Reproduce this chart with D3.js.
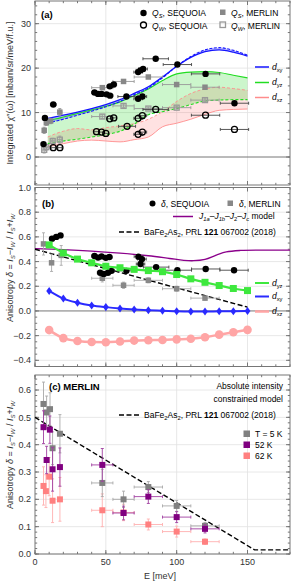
<!DOCTYPE html>
<html>
<head>
<meta charset="utf-8">
<script src="https://cdn.jsdelivr.net/npm/d3@7"></script>
<style>
  body { margin: 0; background: #fff; }
  svg { font-family: "Liberation Sans", Arial, sans-serif; }
</style>
</head>
<body>
<script>
/** DATA **/
// (a) model curves, energy grid
const eModel = [9, 15, 20, 30, 40, 50, 60, 70, 80, 90, 100, 110, 120, 130, 140, 150];
const xySolid  = [8.7, 9.1, 9.4, 10.1, 10.9, 11.8, 12.9, 14.3, 15.8, 18.0, 20.4, 22.4, 23.7, 24.1, 23.6, 22.7];
const xyDashed = [7.6, 8.1, 8.5, 9.4, 10.3, 11.3, 12.5, 14.0, 15.5, 17.8, 20.4, 22.6, 24.1, 24.6, 24.0, 22.9];
const yzUpper  = [8.2, 8.6, 9.0, 9.8, 10.6, 11.4, 12.4, 13.8, 15.3, 17.2, 18.7, 19.1, 19.2, 19.0, 18.4, 17.8];
const yzLower  = [3.0, 3.3, 3.6, 4.0, 4.5, 5.0, 5.8, 7.4, 9.5, 10.2, 10.9, 11.8, 12.6, 12.8, 12.9, 12.9];
const xzUpper  = [4.5, 5.3, 5.8, 6.4, 6.1, 6.6, 7.0, 7.5, 8.5, 10.2, 12.5, 14.3, 15.3, 15.7, 15.4, 15.0];
const xzLower  = [2.3, 2.7, 3.0, 3.6, 3.8, 3.6, 3.4, 3.9, 4.5, 6.8, 7.6, 8.5, 9.6, 10.5, 10.7, 10.8];

// (a) Q_S SEQUOIA
const qsSeqE  = [6, 7, 12.9, 42, 44.5, 47, 50.5, 53, 52.8, 55.6, 64.5, 72.8, 75.8, 72.8, 74.4, 76.3, 85.2, 100.5, 120.4, 140.8];
const qsSeqV  = [2.9, 8.8, 11.8, 14.5, 14.2, 14.2, 14.1, 13.8, 15.9, 16.3, 13.6, 13.1, 13.6, 19.1, 19.5, 19.8, 22.1, 20.8, 18.7, 12.1];
const qsSeqDE = [1.5, 1.5, 2, 2, 2, 2, 2, 2, 2, 2, 6, 3, 3, 3, 3, 3, 9, 10, 10, 10];
// (a) Q_W SEQUOIA
const qwSeqE  = [12.9, 17.6, 43.4, 47, 50, 52.8, 55.6, 65, 72.8, 75.8, 72.8, 75.8, 85.2, 120.4, 140.8];
const qwSeqV  = [2.1, 2.1, 5.7, 5.6, 5.3, 8.6, 8.8, 6.9, 5.1, 5.6, 8.7, 9.3, 10.7, 9.4, 6.2];
const qwSeqDE = [1.5, 1.5, 2, 2, 2, 2, 2, 6, 3, 3, 3, 3, 9, 10, 10];
// (a) MERLIN
const merE   = [6.5, 8, 11, 17.5, 47.5, 62.5, 80, 100, 120];
const merDE  = [1, 1, 1, 1.5, 7.5, 7.5, 10, 10, 10];
const qsMerV = [6.0, 7.7, 8.1, 10.1, 15.6, 17.0, 18.0, 16.3, 15.7];
const qsMerDV = [0.7, 0.6, 0.6, 0.8, 0.4, 0.4, 0.3, 0.3, 0.3];
const qwMerE = [6.5, 8, 12.5, 17.5, 47.5, 62.5, 80, 100, 120];
const qwMerV = [1.6, 2.2, 3.6, 3.9, 9.1, 11.5, 10.9, 11.1, 12.8];

// (b) calculated anisotropy per orbital
const eCalc   = [10, 20, 30, 40, 50, 60, 70, 80, 90, 100, 110, 120, 130, 140, 150];
const yzDelta = [0.535, 0.47, 0.42, 0.39, 0.362, 0.35, 0.337, 0.327, 0.318, 0.295, 0.26, 0.232, 0.206, 0.182, 0.165];
const xyDelta = [0.162, 0.10, 0.067, 0.045, 0.031, 0.02, 0.012, 0.006, 0.002, -0.003, -0.005, -0.005, -0.003, -0.002, 0.0];
const xzDelta = [-0.155, -0.22, -0.243, -0.252, -0.253, -0.247, -0.24, -0.237, -0.235, -0.23, -0.225, -0.213, -0.192, -0.172, -0.153];
// (b) J model
const jModelE = [0, 20, 40, 60, 80, 95, 105, 112, 120, 128, 135, 145, 160, 180];
const jModelV = [0.505, 0.497, 0.485, 0.468, 0.447, 0.425, 0.41, 0.407, 0.418, 0.452, 0.478, 0.49, 0.493, 0.493];
// BaFe2As2 reference line
const baE = [0, 155, 180];
const baV = [0.5, 0.015, 0.015];
// (b) delta SEQUOIA
const dSeqE  = [12, 15, 18, 42, 44.5, 47, 50, 52.5, 46, 48.5, 51.5, 54, 64.5, 73, 75.5, 74.5, 85.5, 100.5, 120.5, 140.5];
const dSeqV  = [0.585, 0.6, 0.612, 0.445, 0.432, 0.442, 0.43, 0.437, 0.31, 0.3, 0.31, 0.325, 0.325, 0.44, 0.42, 0.38, 0.355, 0.33, 0.34, 0.33];
const dSeqDE = [1.5, 1.5, 1.5, 2, 2, 2, 2, 2, 2, 2, 2, 2, 6, 3, 3, 3, 9, 10, 10, 10];
// (b) delta MERLIN
const dMerE  = [6, 11.7, 18.5, 47.5, 62.5, 80, 100, 120];
const dMerV  = [0.543, 0.39, 0.45, 0.265, 0.208, 0.248, 0.18, 0.104];
const dMerDE = [1, 1, 1.5, 7.5, 7.5, 10, 10, 10];
const dMerDV = [0.09, 0.07, 0.08, 0.03, 0.025, 0.02, 0.02, 0.015];

// (c) MERLIN temperatures
const t5E   = [6, 8.2, 10.6, 12.4, 17.6, 47.5, 62.5, 80, 100, 120];
const t5V   = [0.549, 0.518, 0.53, 0.387, 0.44, 0.26, 0.2, 0.245, 0.176, 0.103];
const t5Err = [0.08, 0.06, 0.06, 0.06, 0.07, 0.05, 0.03, 0.02, 0.02, 0.012];
const t52E   = [6, 10.5, 8.2, 12.4, 17.6, 47.5, 62.5, 80, 100, 120];
const t52V   = [0.464, 0.455, 0.344, 0.31, 0.318, 0.326, 0.15, 0.21, 0.135, 0.092];
const t52Err = [0.06, 0.05, 0.05, 0.08, 0.07, 0.06, 0.025, 0.025, 0.02, 0.015];
const t62E   = [6, 7.7, 10, 12.4, 17.6, 47.5, 62.5, 80, 100, 120];
const t62V   = [0.249, 0.23, 0.283, 0.195, 0.2, 0.16, 0.152, 0.108, 0.082, 0.045];
const t62Err = [0.07, 0.06, 0.07, 0.08, 0.08, 0.06, 0.03, 0.02, 0.02, 0.01];
const tDE    = [1.2, 1.2, 1.2, 1.2, 1.2, 7.5, 7.5, 10, 10, 10];

const xTicks = [0, 50, 100, 150];

/** LAYOUT **/
const W = 292, H = 582;
const svg = d3.select('body').append('svg').attr('width', W).attr('height', H);

const x = d3.scaleLinear().domain([0, 180]).range([35, 290]);
const ya = d3.scaleLinear().domain([-6.3, 35.1]).range([185, 1]);
const yb = d3.scaleLinear().domain([-0.45, 1.0]).range([366.5, 187.5]);
const yc = d3.scaleLinear().domain([0, 0.655]).range([554, 375]);

const zip = (a, b) => a.map((v, i) => [v, b[i]]);
const fmtMinus = s => s.replace('-', '\u2212');

// frame, grid, ticks for one panel
function panel(y, majorY, minorY, fmt, zeroLine, xLabels) {
  const g = svg.append('g');
  const [x0, x1] = x.range();
  const [y1, y0] = y.range();
  // grid
  g.selectAll('.gx').data([50, 100, 150]).enter().append('line')
    .attr('x1', d => x(d)).attr('x2', d => x(d)).attr('y1', y0).attr('y2', y1)
    .attr('stroke', '#e2e2e2').attr('stroke-width', 0.8);
  g.selectAll('.gy').data(majorY.filter(d => d !== 0 || !zeroLine)).enter().append('line')
    .attr('x1', x0).attr('x2', x1).attr('y1', d => y(d)).attr('y2', d => y(d))
    .attr('stroke', '#e2e2e2').attr('stroke-width', 0.8);
  if (zeroLine) {
    g.append('line').attr('x1', x0).attr('x2', x1).attr('y1', y(0)).attr('y2', y(0))
      .attr('stroke', '#777').attr('stroke-width', 1);
  }
  // ticks (inward)
  const minorX = d3.range(0, 181, 10);
  const tk = (vals, len, horiz) => vals.forEach(v => {
    if (horiz) {
      g.append('line').attr('x1', x(v)).attr('x2', x(v)).attr('y1', y1).attr('y2', y1 - len).attr('stroke', '#777');
      g.append('line').attr('x1', x(v)).attr('x2', x(v)).attr('y1', y0).attr('y2', y0 + len).attr('stroke', '#777');
    } else {
      g.append('line').attr('x1', x0).attr('x2', x0 + len).attr('y1', y(v)).attr('y2', y(v)).attr('stroke', '#777');
      g.append('line').attr('x1', x1).attr('x2', x1 - len).attr('y1', y(v)).attr('y2', y(v)).attr('stroke', '#777');
    }
  });
  tk(minorX, 2.2, true);
  tk(xTicks, 4, true);
  tk(minorY, 2.2, false);
  tk(majorY, 4, false);
  // frame
  g.append('rect').attr('x', x0).attr('y', y0).attr('width', x1 - x0).attr('height', y1 - y0)
    .attr('fill', 'none').attr('stroke', '#777').attr('stroke-width', 1);
  // labels
  g.selectAll('.ly').data(majorY).enter().append('text')
    .attr('x', x0 - 4).attr('y', d => y(d)).attr('dy', '0.35em')
    .attr('text-anchor', 'end').attr('font-size', 9).attr('fill', '#333')
    .text(d => fmtMinus(fmt(d)));
  if (xLabels) {
    g.selectAll('.lx').data(xTicks).enter().append('text')
      .attr('x', d => x(d)).attr('y', y1 + 11).attr('text-anchor', 'middle')
      .attr('font-size', 9).attr('fill', '#333').text(d => d);
  }
  return g;
}

// rich text: parts {t, i, b, sub}
function rich(sel, parts) {
  parts.forEach(p => {
    const ts = sel.append('tspan').text(p.t);
    if (p.i) ts.attr('font-style', 'italic');
    if (p.b) ts.attr('font-weight', 'bold');
    if (p.sub) ts.attr('dy', 2).attr('font-size', '0.68em');
    if (p.up) ts.attr('dy', -2);
  });
  return sel;
}

function xErr(g, pts, y, color, w) {
  g.selectAll(null).data(pts).enter().append('line')
    .attr('x1', d => x(d[0] - d[2])).attr('x2', d => x(d[0] + d[2]))
    .attr('y1', d => y(d[1])).attr('y2', d => y(d[1]))
    .attr('stroke', color).attr('stroke-width', w || 0.9);
  pts.forEach(d => [d[0] - d[2], d[0] + d[2]].forEach(e => {
    g.append('line').attr('x1', x(e)).attr('x2', x(e))
      .attr('y1', y(d[1]) - 1.5).attr('y2', y(d[1]) + 1.5)
      .attr('stroke', color).attr('stroke-width', w || 0.9);
  }));
}
function yErr(g, pts, y, color, w) {
  g.selectAll(null).data(pts).enter().append('line')
    .attr('x1', d => x(d[0])).attr('x2', d => x(d[0]))
    .attr('y1', d => y(d[1] - d[2])).attr('y2', d => y(d[1] + d[2]))
    .attr('stroke', color).attr('stroke-width', w || 0.9);
  pts.forEach(d => [d[1] - d[2], d[1] + d[2]].forEach(e => {
    g.append('line').attr('x1', x(d[0]) - 1.5).attr('x2', x(d[0]) + 1.5)
      .attr('y1', y(e)).attr('y2', y(e))
      .attr('stroke', color).attr('stroke-width', w || 0.9);
  }));
}
function squares(g, pts, y, s, attrs) {
  const sel = g.selectAll(null).data(pts).enter().append('rect')
    .attr('x', d => x(d[0]) - s / 2).attr('y', d => y(d[1]) - s / 2)
    .attr('width', s).attr('height', s);
  Object.entries(attrs).forEach(([k, v]) => sel.attr(k, v));
}
function circles(g, pts, y, r, attrs) {
  const sel = g.selectAll(null).data(pts).enter().append('circle')
    .attr('cx', d => x(d[0])).attr('cy', d => y(d[1])).attr('r', r);
  Object.entries(attrs).forEach(([k, v]) => sel.attr(k, v));
}

/** PANEL (a) **/
const ga = panel(ya, [0, 10, 20, 30], d3.range(-6, 35, 2), d3.format('d'), true, false);
const band = (up, lo) => d3.area().curve(d3.curveMonotoneX)
  .x((d, i) => x(eModel[i])).y0((d, i) => ya(lo[i])).y1((d, i) => ya(up[i]))(eModel);
const curve = (vals, y) => d3.line().curve(d3.curveMonotoneX)
  .x(d => x(d[0])).y(d => y(d[1]))(zip(eModel, vals));

ga.append('path').attr('d', band(xzUpper, xzLower)).attr('fill', 'rgba(255,60,60,0.15)');
ga.append('path').attr('d', band(yzUpper, yzLower)).attr('fill', 'rgba(0,210,0,0.2)');
ga.append('path').attr('d', band(xyDashed, xySolid)).attr('fill', 'rgba(60,60,255,0.35)');

ga.append('path').attr('d', curve(xzUpper, ya)).attr('fill', 'none').attr('stroke', '#ff8c8c').attr('stroke-width', 0.9).attr('stroke-dasharray', '3,2');
ga.append('path').attr('d', curve(xzLower, ya)).attr('fill', 'none').attr('stroke', '#ff8c8c').attr('stroke-width', 0.9);
ga.append('path').attr('d', curve(yzUpper, ya)).attr('fill', 'none').attr('stroke', '#22dd22').attr('stroke-width', 1.1);
ga.append('path').attr('d', curve(yzLower, ya)).attr('fill', 'none').attr('stroke', '#22dd22').attr('stroke-width', 1.1).attr('stroke-dasharray', '3,2');
ga.append('path').attr('d', curve(xySolid, ya)).attr('fill', 'none').attr('stroke', '#1414ff').attr('stroke-width', 1.3);
ga.append('path').attr('d', curve(xyDashed, ya)).attr('fill', 'none').attr('stroke', '#1414ff').attr('stroke-width', 1.1).attr('stroke-dasharray', '3,1.5');

// MERLIN points
const qsMer = merE.map((e, i) => [e, qsMerV[i], merDE[i], qsMerDV[i]]);
const qwMer = qwMerE.map((e, i) => [e, qwMerV[i], merDE[i], qsMerDV[i]]);
xErr(ga, qsMer, ya, '#999');
yErr(ga, qsMer.map(d => [d[0], d[1], d[3]]), ya, '#999');
xErr(ga, qwMer, ya, '#999');
yErr(ga, qwMer.map(d => [d[0], d[1], d[3]]), ya, '#999');
squares(ga, qsMer, ya, 5.5, { fill: '#888' });
squares(ga, qwMer, ya, 5, { fill: 'none', stroke: '#999', 'stroke-width': 1.3 });

// SEQUOIA points
const qsSeq = qsSeqE.map((e, i) => [e, qsSeqV[i], qsSeqDE[i]]);
const qwSeq = qwSeqE.map((e, i) => [e, qwSeqV[i], qwSeqDE[i]]);
xErr(ga, qsSeq, ya, '#444');
xErr(ga, qwSeq, ya, '#444');
circles(ga, qsSeq, ya, 3.2, { fill: '#000' });
circles(ga, qwSeq, ya, 3, { fill: 'none', stroke: '#000', 'stroke-width': 1.3 });

// legend (a)
ga.append('text').attr('x', 41).attr('y', 18).attr('font-size', 9.5).attr('font-weight', 'bold').text('(a)');
ga.append('circle').attr('cx', 143.5).attr('cy', 13).attr('r', 3.2).attr('fill', '#000');
ga.append('circle').attr('cx', 143.5).attr('cy', 25).attr('r', 3).attr('fill', 'none').attr('stroke', '#000').attr('stroke-width', 1.3);
ga.append('rect').attr('x', 220).attr('y', 9.5).attr('width', 5.5).attr('height', 5.5).attr('fill', '#888');
ga.append('rect').attr('x', 220).attr('y', 22).attr('width', 5.5).attr('height', 5.5).attr('fill', 'none').attr('stroke', '#999').attr('stroke-width', 1.3);
const legA = [[152, 16, 'S', 'SEQUOIA'], [231, 16, 'S', 'MERLIN'], [152, 28.5, 'W', 'SEQUOIA'], [231, 28.5, 'W', 'MERLIN']];
legA.forEach(l => rich(ga.append('text').attr('x', l[0]).attr('y', l[1]).attr('font-size', 8.5),
  [{ t: 'Q', i: true }, { t: l[2], i: true, sub: true }, { t: ', ' + l[3], up: true }]));
const orbLeg = (g, y0, items) => items.forEach((it, k) => {
  g.append('line').attr('x1', 255).attr('x2', 269).attr('y1', y0[k]).attr('y2', y0[k])
    .attr('stroke', it[1]).attr('stroke-width', it[2]);
  rich(g.append('text').attr('x', 272).attr('y', y0[k] + 2.5).attr('font-size', 8.5),
    [{ t: 'd', i: true }, { t: it[0], sub: true }]);
});
orbLeg(ga, [67, 82.5, 97.5], [['xy', '#1414ff', 1.5], ['yz', '#22dd22', 1.5], ['xz', '#ff8c8c', 1.5]]);

ga.append('text').attr('transform', 'translate(13,93) rotate(-90)').attr('text-anchor', 'middle')
  .attr('font-size', 9).attr('fill', '#333').text('Integrated \u03c7\u2033(\u03c9) [mbarn/sr/meV/f.u.]');

/** PANEL (b) **/
const gb = panel(yb, [-0.4, -0.2, 0, 0.2, 0.4, 0.6, 0.8, 1.0], d3.range(-0.45, 1.001, 0.05), d3.format('.1f'), true, false);
const lineB = d3.line().curve(d3.curveMonotoneX).x(d => x(d[0])).y(d => yb(d[1]));

gb.append('path').attr('d', d3.line().curve(d3.curveCatmullRom).x(d => x(d[0])).y(d => yb(d[1]))(zip(jModelE, jModelV)))
  .attr('fill', 'none').attr('stroke', '#8b008b').attr('stroke-width', 1.3);
gb.append('clipPath').attr('id', 'clipb').append('rect')
  .attr('x', x(0)).attr('y', 187).attr('width', x(150) - x(0)).attr('height', 180);
gb.append('path').attr('d', d3.line().x(d => x(d[0])).y(d => yb(d[1]))(zip(baE, baV)))
  .attr('clip-path', 'url(#clipb)')
  .attr('fill', 'none').attr('stroke', '#000').attr('stroke-width', 1.4).attr('stroke-dasharray', '5,2.5');

// orbital curves
gb.append('path').attr('d', lineB(zip(eCalc, xzDelta))).attr('fill', 'none').attr('stroke', '#ffa5a5').attr('stroke-width', 2.5);
circles(gb, zip(eCalc, xzDelta), yb, 4.3, { fill: '#ffa5a5' });
gb.append('path').attr('d', lineB(zip(eCalc, xyDelta))).attr('fill', 'none').attr('stroke', '#2a2aff').attr('stroke-width', 2);
gb.selectAll(null).data(zip(eCalc, xyDelta)).enter().append('path')
  .attr('d', d3.symbol(d3.symbolDiamond2, 34))
  .attr('transform', d => `translate(${x(d[0])},${yb(d[1])}) scale(0.8,1.1)`)
  .attr('fill', '#2a2aff');

// MERLIN delta
const dMer = dMerE.map((e, i) => [e, dMerV[i], dMerDE[i], dMerDV[i]]);
xErr(gb, dMer, yb, '#aaa');
yErr(gb, dMer.map(d => [d[0], d[1], d[3]]), yb, '#aaa');
squares(gb, dMer, yb, 5.5, { fill: '#888' });

// SEQUOIA delta
const dSeq = dSeqE.map((e, i) => [e, dSeqV[i], dSeqDE[i]]);
xErr(gb, dSeq, yb, '#444');
circles(gb, dSeq, yb, 3.2, { fill: '#000' });

gb.append('path').attr('d', lineB(zip(eCalc, yzDelta))).attr('fill', 'none').attr('stroke', '#3ee83e').attr('stroke-width', 2.2);
squares(gb, zip(eCalc, yzDelta), yb, 7, { fill: '#3ee83e' });

// legend (b)
gb.append('text').attr('x', 42).attr('y', 207).attr('font-size', 9.5).attr('font-weight', 'bold').text('(b)');
gb.append('circle').attr('cx', 152.5).attr('cy', 203.5).attr('r', 3).attr('fill', '#000');
rich(gb.append('text').attr('x', 161).attr('y', 206.5).attr('font-size', 8.5), [{ t: '\u03b4', i: true }, { t: ', SEQUOIA' }]);
gb.append('rect').attr('x', 227.5).attr('y', 200.5).attr('width', 5.5).attr('height', 5.5).attr('fill', '#888');
rich(gb.append('text').attr('x', 239).attr('y', 206.5).attr('font-size', 8.5), [{ t: '\u03b4', i: true }, { t: ', MERLIN' }]);
gb.append('line').attr('x1', 173).attr('x2', 193).attr('y1', 216.5).attr('y2', 216.5).attr('stroke', '#8b008b').attr('stroke-width', 1.5);
rich(gb.append('text').attr('x', 199).attr('y', 219).attr('font-size', 8.5), [
  { t: 'J', i: true }, { t: '1a', i: true, sub: true }, { t: '\u2013', up: true }, { t: 'J', i: true }, { t: '1b', i: true, sub: true },
  { t: '\u2013', up: true }, { t: 'J', i: true }, { t: '2', sub: true }, { t: '\u2013', up: true }, { t: 'J', i: true }, { t: 'c', i: true, sub: true },
  { t: ' model', up: true }]);
const baLegend = (g, yL) => {
  g.append('line').attr('x1', 119).attr('x2', 140).attr('y1', yL).attr('y2', yL)
    .attr('stroke', '#000').attr('stroke-width', 1.4).attr('stroke-dasharray', '5,2.5');
  rich(g.append('text').attr('x', 144).attr('y', yL + 3).attr('font-size', 8.5), [
    { t: 'BaFe' }, { t: '2', sub: true }, { t: 'As', up: true }, { t: '2', sub: true }, { t: ', PRL ', up: true },
    { t: '121', b: true }, { t: ' 067002 (2018)' }]);
};
baLegend(gb, 232);
orbLeg(gb, [283, 296.5, 311.5], [['yz', '#3ee83e', 2], ['xy', '#2a2aff', 2], ['xz', '#ffa5a5', 2.5]]);

const anisoLabel = (g, cy) => rich(g.append('text').attr('transform', `translate(13,${cy}) rotate(-90)`)
  .attr('text-anchor', 'middle').attr('font-size', 9).attr('fill', '#333'), [
  { t: 'Anisotropy ' }, { t: '\u03b4', i: true }, { t: ' = ' }, { t: 'I', i: true }, { t: 'S', i: true, sub: true },
  { t: '\u2212', up: true }, { t: 'I', i: true }, { t: 'W', i: true, sub: true }, { t: ' / ', up: true },
  { t: 'I', i: true }, { t: 'S', i: true, sub: true }, { t: '+', up: true }, { t: 'I', i: true }, { t: 'W', i: true, sub: true }]);
anisoLabel(gb, 268);

/** PANEL (c) **/
const gc = panel(yc, [0, 0.1, 0.2, 0.3, 0.4, 0.5, 0.6], d3.range(0, 0.655, 0.02), d3.format('.1f'), false, true);
gc.append('path').attr('d', d3.line().x(d => x(d[0])).y(d => yc(d[1]))(zip(baE, baV)))
  .attr('fill', 'none').attr('stroke', '#000').attr('stroke-width', 1.4).attr('stroke-dasharray', '5,2.5');

const tSeries = [
  [t62E, t62V, t62Err, '#ff8080', '#ffb0b0'],
  [t5E, t5V, t5Err, '#808080', '#a8a8a8'],
  [t52E, t52V, t52Err, '#800080', '#a040a0']
];
tSeries.forEach(s => {
  const pts = s[0].map((e, i) => [e, s[1][i], tDE[i], s[2][i]]);
  xErr(gc, pts, yc, s[4]);
  yErr(gc, pts.map(d => [d[0], d[1], d[3]]), yc, s[4]);
  squares(gc, pts, yc, 6, { fill: s[3] });
});

// legend (c)
gc.append('text').attr('x', 49).attr('y', 390).attr('font-size', 9.5).attr('font-weight', 'bold').text('(c) MERLIN');
gc.append('text').attr('x', 283).attr('y', 389).attr('text-anchor', 'end').attr('font-size', 8.5).text('Absolute intensity');
gc.append('text').attr('x', 283).attr('y', 402).attr('text-anchor', 'end').attr('font-size', 8.5).text('constrained model');
baLegend(gc, 415);
[['T = 5 K', '#808080'], ['52 K', '#800080'], ['62 K', '#ff8080']].forEach((l, k) => {
  gc.append('rect').attr('x', 243.5).attr('y', 430.5 + k * 11).attr('width', 6.5).attr('height', 6.5).attr('fill', l[1]);
  gc.append('text').attr('x', 255).attr('y', 437 + k * 11).attr('font-size', 8.5).text(l[0]);
});
anisoLabel(gc, 455);

svg.append('text').attr('x', 160).attr('y', 579).attr('text-anchor', 'middle').attr('font-size', 9).attr('fill', '#333').text('E [meV]');
</script>
</body>
</html>
